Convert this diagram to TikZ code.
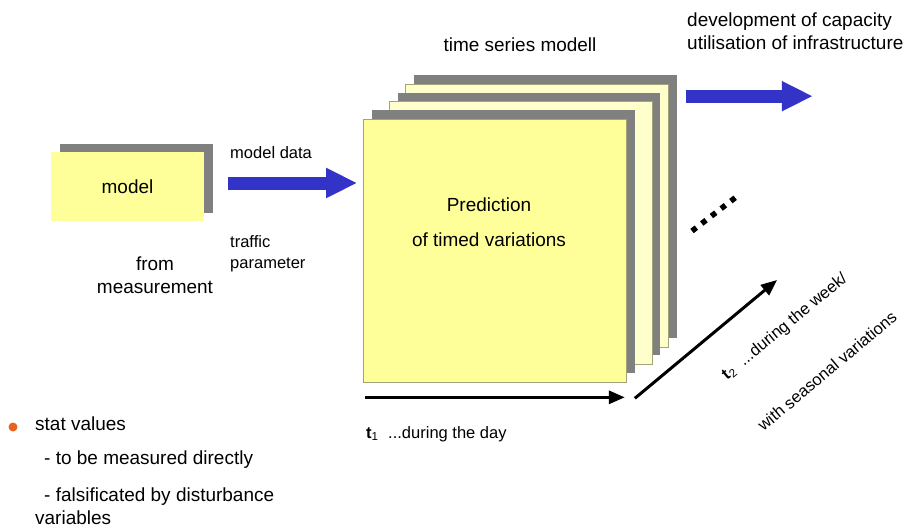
\documentclass[tikz,border=0pt]{standalone}
\usepackage{fontspec}
\setmainfont{Liberation Sans}
\usetikzlibrary{arrows, arrows.meta}
\usetikzlibrary{calc}
\usetikzlibrary{shadows}

\definecolor{cardyellow}{HTML}{FFFF99}
\definecolor{cardpale}{HTML}{FFFFCC}
\definecolor{cardgray}{HTML}{808080}
\definecolor{cardedge}{HTML}{A3A37A}
\definecolor{arrowblue}{HTML}{3333C8}
\definecolor{dotorange}{HTML}{E8641E}

\tikzset{
  card/.style={rectangle, draw=cardedge, line width=0.4pt, inner sep=0pt,
    minimum width=5.26cm, minimum height=5.26cm,
    drop shadow={shadow xshift=0.17cm, shadow yshift=0.18cm, fill=cardgray, opacity=1}},
  bigtext/.style={font=\fontsize{10.8}{13}\selectfont},
  smalltext/.style={font=\fontsize{9.4}{12}\selectfont},
  fatarrow/.style={draw=arrowblue, line width=0.26cm, -{Triangle[length=0.62cm, width=0.56cm]}},
  timeaxis/.style={line width=0.06cm, -{Triangle[length=0.32cm, width=0.26cm]}},
}

\begin{document}
\begin{tikzpicture}[x=0.02cm, y=-0.02cm]
      \useasboundingbox (0,0) rectangle (918,527);

      % model box
      \node[rectangle, fill=cardyellow, inner sep=0pt, minimum width=3.06cm, minimum height=1.38cm,
        drop shadow={shadow xshift=0.18cm, shadow yshift=0.16cm, fill=cardgray, opacity=1},
        bigtext] (model) at (127.5,186.5) {model};
      \node[bigtext, align=center] (from) at (155,275) {from\\measurement};

      % stack of time series cards, back to front
      \node[card, fill=cardpale] (card3) at (537,215.5) {};
      \node[card, fill=cardpale] (card2) at (520.5,233) {};
      \node[card, fill=cardyellow] (card1) at (495,250.5) {};
      \node[bigtext, align=center] (pred) at (489,222) {Prediction\\[7.2pt]of timed variations};
      \node[bigtext] (tsm) at (520,45) {time series modell};

      % input arrow
      \node[smalltext, anchor=west] (mdata) at (224,153) {model data};
      \node[smalltext, anchor=west, align=left] (traffic) at (224,253.5) {traffic\\parameter};
      \coordinate (in1) at ([shift={(24,-3.5)}]model.east);
      \draw[fatarrow, shorten >=0.12cm] (in1) -- (in1 -| card1.west);

      % output arrow
      \node[bigtext, anchor=west, align=left] (dev) at (681,31.5) {development of capacity\\utilisation of infrastructure};
      \coordinate (out1) at ([shift={(17,12.5)}]card3.north east);
      \coordinate (out2) at ([shift={(144,12.5)}]card3.north east);
      \draw[fatarrow] (out1) -- (out2);

      % more cards
      \draw[line width=0.11cm, dash pattern=on 0.11cm off 0.135cm] (692,231) -- (735.5,197.5);

      % time axes
      \draw[timeaxis] ([shift={(2,15)}]card1.south west) -- ([shift={(-2,15)}]card1.south east);
      \coordinate (t2end) at (777,280);
      \draw[timeaxis] ([shift={(8,16)}]card1.south east) -- (t2end);
      \node[smalltext, anchor=west] (t1) at (360,434) {{\bfseries t}\textsubscript{1}\ \ ...during the day};
      \node[smalltext, rotate=39.5] (t2) at (785,327) {{\bfseries t}\textsubscript{2}\ \ ...during the week/};
      \node[smalltext, rotate=40] (seas) at (827,371) {with seasonal variations};

      % stat values
      \node[circle, fill=dotorange, inner sep=0pt, minimum size=0.18cm] (dot) at (13,427) {};
      \node[bigtext, anchor=west] (stat) at (29,424) {stat values};
      \node[bigtext, anchor=west] (direct) at (38,460) {- to be measured directly};
      \node[bigtext, anchor=west, align=left] (falsi) at (29,506.5) {\hspace{0.18cm}- falsificated by disturbance\\variables};
    \end{tikzpicture}
\end{document}
